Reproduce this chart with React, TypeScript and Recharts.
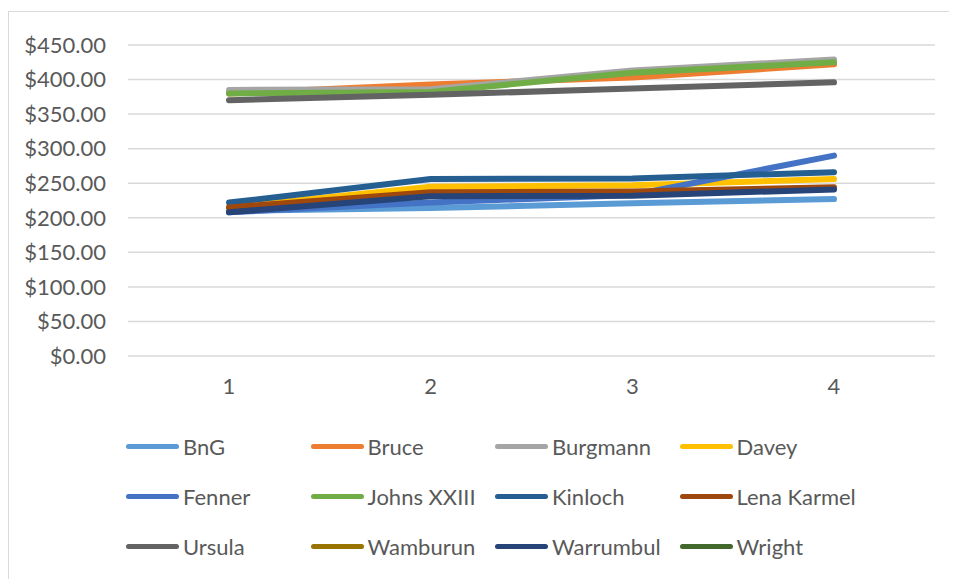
import { LineChart, Line, XAxis, YAxis, CartesianGrid, Legend } from 'recharts'

const periods = ['1', '2', '3', '4']

const schools = [
  'BnG', 'Bruce', 'Burgmann', 'Davey',
  'Fenner', 'Johns XXIII', 'Kinloch', 'Lena Karmel',
  'Ursula', 'Wamburun', 'Warrumbul', 'Wright',
]

const COLORS = [
  '#5B9BD5', '#ED7D31', '#A5A5A5', '#FFC000',
  '#4472C4', '#70AD47', '#255E91', '#9E480E',
  '#636363', '#997300', '#264478', '#43682B',
]

// one array per school, one value per period (null = no data)
const bng = [210, 214, 221, 227]
const bruce = [380, 393, 403, 422]
const burgmann = [385, 386, 413, 429]
const davey = [215, 245, 247, 256]
const fenner = [208, 222, 233, 290]
const johns = [380, 382, 410, 425]
const kinloch = [222, 256, 257, 266]
const lenaKarmel = [215, 237, 238, 244]
const ursula = [370, 378, 387, 396]
const wamburun = [null, null, null, null]
const warrumbul = [208, 231, 232, 241]
const wright = [null, null, null, null]

const seriesValues = [
  bng, bruce, burgmann, davey, fenner, johns,
  kinloch, lenaKarmel, ursula, wamburun, warrumbul, wright,
]

const yTicks = [0, 50, 100, 150, 200, 250, 300, 350, 400, 450]

const chartData = periods.map((p, i) => {
  const row: Record<string, string | number | null> = { period: p }
  schools.forEach((s, j) => {
    row[s] = seriesValues[j][i]
  })
  return row
})

const FONT = 'Lato, "Open Sans", sans-serif'

function GridLegend({ payload }: any) {
  return (
    <div style={{ display: 'flex', flexWrap: 'wrap', width: 740, fontFamily: FONT }}>
      {(payload || []).map((item: any) => (
        <div
          key={item.value}
          style={{ width: 184.5, height: 50, display: 'flex', alignItems: 'center' }}
        >
          <span
            style={{
              display: 'inline-block',
              width: 53,
              height: 5,
              borderRadius: 3,
              background: item.color,
              marginRight: 4,
            }}
          />
          <span style={{ fontSize: 22, color: '#595959', whiteSpace: 'nowrap' }}>{item.value}</span>
        </div>
      ))}
    </div>
  )
}

export default function App() {
  return (
    <div
      style={{
        marginTop: 3,
        width: 960,
        height: 580,
        borderLeft: '1px solid #D9D9D9',
        borderTop: '1px solid #D9D9D9',
        boxSizing: 'border-box',
      }}
    >
      <LineChart
        width={948}
        height={567}
        data={chartData}
        margin={{ top: 33, right: 22, bottom: 14, left: 0 }}
      >
        <CartesianGrid vertical={false} stroke="#D9D9D9" strokeWidth={1.5} />
        <XAxis
          dataKey="period"
          axisLine={false}
          tickLine={false}
          tickMargin={16}
          height={44}
          padding={{ left: 101, right: 101 }}
          tick={{ fill: '#595959', fontSize: 22, fontFamily: FONT }}
        />
        <YAxis
          domain={[0, 450]}
          ticks={yTicks}
          width={119}
          axisLine={false}
          tickLine={false}
          tickMargin={16}
          tickFormatter={(v: number) => `$${v.toFixed(2)}`}
          tick={{ fill: '#595959', fontSize: 22, fontFamily: FONT }}
        />
        <Legend
          verticalAlign="bottom"
          content={<GridLegend />}
          wrapperStyle={{ left: 117, top: 409, width: 760, height: 165 }}
        />
        {schools.map((s, j) => (
          <Line
            key={s}
            dataKey={s}
            name={s}
            stroke={COLORS[j]}
            strokeWidth={6}
            strokeLinecap="round"
            strokeLinejoin="round"
            dot={false}
            activeDot={false}
            isAnimationActive={false}
          />
        ))}
      </LineChart>
    </div>
  )
}
